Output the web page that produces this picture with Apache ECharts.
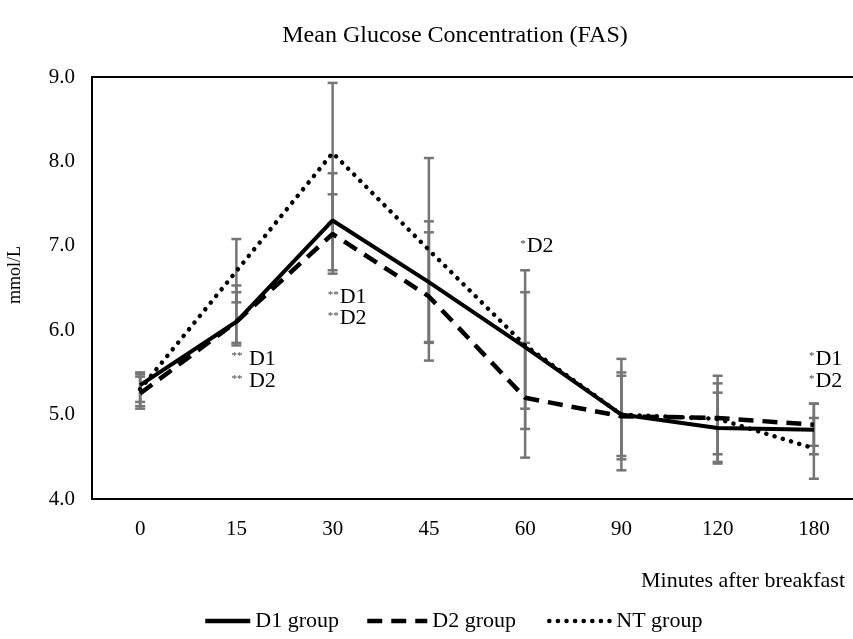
<!DOCTYPE html>
<html>
<head>
<meta charset="utf-8">
<title>Mean Glucose Concentration (FAS)</title>
<script src="https://cdn.jsdelivr.net/npm/echarts@6/dist/echarts.min.js"></script>
<style>
    html, body {margin:0; padding:0; background:#fff;}
    #chart {width:853px; height:639px;}
</style>
</head>
<body>
<div id="chart"></div>
<script>
// x轴分类（早餐后分钟）
var minutes = ['0', '15', '30', '45', '60', '90', '120', '180'];
var yTicks = [4, 5, 6, 7, 8, 9];

// 各组均值
var d1Mean = [5.35, 6.10, 7.30, 6.57, 5.80, 5.00, 4.84, 4.82];
var d2Mean = [5.25, 6.10, 7.14, 6.40, 5.20, 4.98, 4.96, 4.88];
var ntMean = [5.30, 6.70, 8.10, 6.95, 5.82, 5.00, 4.95, 4.60];

// 误差线 下限 / 上限
var d1Low  = [5.10, 5.82, 6.71, 5.85, 4.83, 4.34, 4.42, 4.53];
var d1High = [5.50, 6.45, 7.86, 7.29, 6.71, 5.66, 5.26, 5.13];
var d2Low  = [5.07, 5.85, 6.67, 5.64, 4.49, 4.47, 4.53, 4.63];
var d2High = [5.45, 6.53, 7.61, 7.16, 5.85, 5.50, 5.37, 5.13];
var ntLow  = [5.15, 6.33, 7.27, 5.86, 5.07, 4.51, 4.44, 4.24];
var ntHigh = [5.48, 7.08, 8.93, 8.04, 6.45, 5.46, 5.46, 4.96];

// 显著性标注
var noteCats  = ['15', '15', '30', '30', '60', '180', '180'];
var noteVals  = [5.66, 5.39, 6.39, 6.14, 6.99, 5.66, 5.39];
var noteStars = ['**', '**', '**', '**', '*', '*', '*'];
var noteTexts = [' D1', ' D2', 'D1', 'D2', 'D2', 'D1', 'D2'];

var serif = "'Liberation Serif', 'Times New Roman', serif";

function errData(low, high) {
    var out = [];
    for (var i = 0; i < minutes.length; i++) {
        out.push([i, low[i], high[i]]);
    }
    return out;
}

// 画误差线：竖线 + 上下横帽
function renderError(params, api) {
    var x = api.value(0);
    var lo = api.coord([x, api.value(1)]);
    var hi = api.coord([x, api.value(2)]);
    var w = 5;
    var style = {stroke: '#757575', lineWidth: 2.5};
    return {
        type: 'group',
        children: [
            {type: 'line', shape: {x1: lo[0], y1: lo[1], x2: hi[0], y2: hi[1]}, style: style},
            {type: 'line', shape: {x1: lo[0] - w, y1: lo[1], x2: lo[0] + w, y2: lo[1]}, style: style},
            {type: 'line', shape: {x1: hi[0] - w, y1: hi[1], x2: hi[0] + w, y2: hi[1]}, style: style}
        ]
    };
}

function errSeries(low, high) {
    return {
        type: 'custom',
        renderItem: renderError,
        data: errData(low, high),
        encode: {x: 0, y: [1, 2]},
        silent: true,
        z: 1
    };
}

// 每个图例单独放，间距按原图
function legendItem(name, left, width) {
    return {
        data: [name],
        bottom: 2,
        left: left,
        itemWidth: width,
        itemHeight: 14,
        itemStyle: {opacity: 0},
        lineStyle: {width: 4.5, color: '#000'},
        textStyle: {fontFamily: serif, fontSize: 22, color: '#000'}
    };
}

var notes = [];
for (var k = 0; k < noteCats.length; k++) {
    notes.push({
        value: [noteCats[k], noteVals[k]],
        label: {formatter: '{s|' + noteStars[k] + '}{t|' + noteTexts[k] + '}'}
    });
}

var option = {
    animation: false,
    title: [
        {
            text: 'Mean Glucose Concentration (FAS)',
            left: 450,
            textAlign: 'center',
            top: 19,
            textStyle: {fontFamily: serif, fontWeight: 'normal', fontSize: 24, color: '#000'}
        },
        {
            text: 'Minutes after breakfast',
            right: 3,
            top: 565,
            textStyle: {fontFamily: serif, fontWeight: 'normal', fontSize: 22, color: '#000'}
        }
    ],
    legend: [
        legendItem('D1 group', 198, 45),
        legendItem('D2 group', 360, 60),
        legendItem('NT group', 542, 62)
    ],
    graphic: [
        {
            type: 'text',
            x: 15,
            y: 275,
            rotation: Math.PI / 2,
            style: {text: 'mmol/L', fontFamily: serif, fontSize: 18, fill: '#000', align: 'center', verticalAlign: 'middle'}
        }
    ],
    grid: {
        left: 92,
        top: 77,
        width: 770,
        height: 422,
        outerBoundsMode: 'none',
        show: true,
        borderColor: '#000',
        borderWidth: 2,
        backgroundColor: '#fff'
    },
    xAxis: {
        type: 'category',
        data: minutes,
        boundaryGap: true,
        axisLine: {show: false},
        axisTick: {show: false},
        axisLabel: {margin: 20, fontFamily: serif, fontSize: 21, color: '#000'}
    },
    yAxis: {
        type: 'value',
        min: yTicks[0],
        max: yTicks[yTicks.length - 1],
        interval: 1,
        axisLine: {show: false},
        axisTick: {show: false},
        splitLine: {show: false},
        axisLabel: {
            margin: 17,
            fontFamily: serif,
            fontSize: 21,
            color: '#000',
            formatter: function (v) { return v.toFixed(1); }
        }
    },
    series: [
        errSeries(d1Low, d1High),
        errSeries(d2Low, d2High),
        errSeries(ntLow, ntHigh),
        {
            name: 'D1 group',
            type: 'line',
            data: d1Mean,
            symbol: 'none',
            z: 4,
            itemStyle: {color: '#000'},
            lineStyle: {color: '#000', width: 4}
        },
        {
            name: 'D2 group',
            type: 'line',
            data: d2Mean,
            symbol: 'none',
            z: 3,
            itemStyle: {color: '#000'},
            lineStyle: {color: '#000', width: 4.5, type: [15, 9]}
        },
        {
            name: 'NT group',
            type: 'line',
            data: ntMean,
            symbol: 'none',
            z: 3,
            itemStyle: {color: '#000'},
            lineStyle: {color: '#000', width: 4.5, type: [0.1, 8.5], cap: 'round'}
        },
        {
            type: 'scatter',
            data: notes,
            symbolSize: 0,
            silent: true,
            z: 5,
            itemStyle: {opacity: 1},
            label: {
                show: true,
                position: 'right',
                distance: -5,
                color: '#000',
                rich: {
                    s: {fontFamily: serif, fontSize: 11, color: '#444', verticalAlign: 'middle', padding: [0, 1, 5, 0]},
                    t: {fontFamily: serif, fontSize: 22, color: '#000'}
                }
            }
        }
    ]
};

var myChart = echarts.init(document.getElementById('chart'));
myChart.setOption(option);
</script>
</body>
</html>
